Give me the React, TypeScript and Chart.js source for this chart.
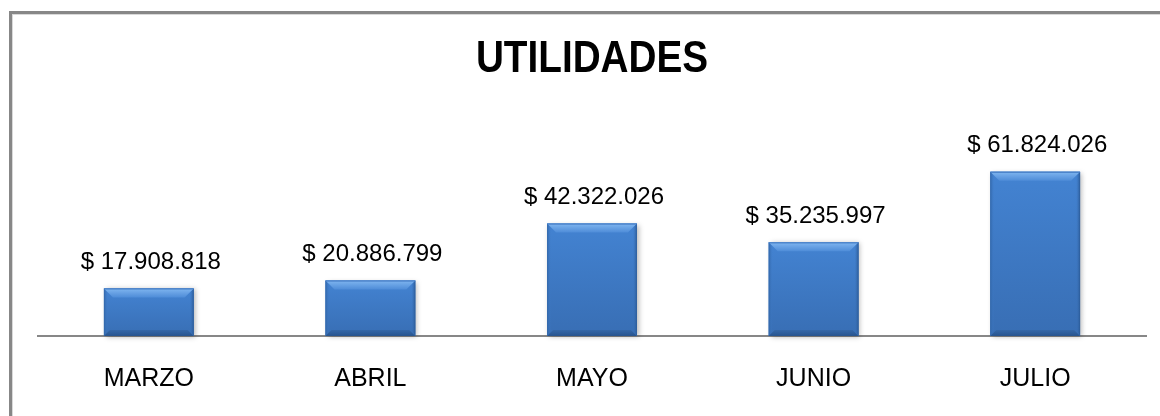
import React, { useEffect, useRef } from "react";
import { Chart, registerables } from "chart.js";

Chart.register(...registerables);

const categories = ["MARZO", "ABRIL", "MAYO", "JUNIO", "JULIO"];
const utilidades = [17908818, 20886799, 42322026, 35235997, 61824026];
const chartTitle = "UTILIDADES";
const yMax = 70000000;

const REGULAR = "'Liberation Sans', Arial, sans-serif";

function formatPesos(v: number): string {
  const s = Math.round(v).toString().replace(/\B(?=(\d{3})+(?!\d))/g, ".");
  return "$ " + s;
}

const framePlugin = {
  id: "frame",
  beforeDraw(chart: any) {
    const ctx = chart.ctx;
    ctx.save();
    ctx.fillStyle = "#ffffff";
    ctx.fillRect(0, 0, chart.width, chart.height);
    ctx.fillStyle = "#878787";
    ctx.fillRect(9, 11, 3, chart.height - 11);
    ctx.fillRect(9, 11, chart.width - 9, 3);
    ctx.fillStyle = "#d9d9d9";
    ctx.fillRect(12, 14, 1, chart.height - 14);
    ctx.fillRect(12, 14, chart.width - 12, 1);
    // condensed bold title
    ctx.fillStyle = "#000000";
    ctx.font = "bold 45px " + REGULAR;
    ctx.textAlign = "center";
    ctx.textBaseline = "middle";
    const cx = (chart.chartArea.left + chart.chartArea.right) / 2;
    ctx.translate(cx, 60);
    ctx.scale(0.86, 1);
    ctx.fillText(chartTitle, 0, 0);
    ctx.restore();
  },
};

const bevelPlugin = {
  id: "bevelBars",
  afterDatasetsDraw(chart: any) {
    const ctx = chart.ctx;
    const meta = chart.getDatasetMeta(0);
    ctx.save();
    meta.data.forEach((bar: any, i: number) => {
      const { x, y, base, width } = bar.getProps(["x", "y", "base", "width"], true);
      const L = x - width / 2;
      const R = x + width / 2;
      const T = y;
      const B = base;
      ctx.save();
      ctx.shadowColor = "rgba(0,0,0,0.28)";
      ctx.shadowBlur = 5;
      ctx.shadowOffsetX = 2;
      ctx.shadowOffsetY = 1;
      const g = ctx.createLinearGradient(0, T, 0, B);
      g.addColorStop(0, "#4383d2");
      g.addColorStop(1, "#386eb4");
      ctx.fillStyle = g;
      ctx.fillRect(L, T, R - L, B - T);
      ctx.restore();
      const c = 9;
      const sw = 4;
      const bb = 6;
      const gl = ctx.createLinearGradient(L, 0, L + sw, 0);
      gl.addColorStop(0, "#3166a8");
      gl.addColorStop(1, "rgba(64,124,200,0)");
      ctx.fillStyle = gl;
      ctx.beginPath();
      ctx.moveTo(L, T);
      ctx.lineTo(L + c, T + c);
      ctx.lineTo(L + sw, T + c + 6);
      ctx.lineTo(L + sw, B - bb);
      ctx.lineTo(L, B);
      ctx.closePath();
      ctx.fill();
      const gr = ctx.createLinearGradient(R, 0, R - sw, 0);
      gr.addColorStop(0, "#2a5a97");
      gr.addColorStop(1, "rgba(60,115,185,0)");
      ctx.fillStyle = gr;
      ctx.beginPath();
      ctx.moveTo(R, T);
      ctx.lineTo(R - c, T + c);
      ctx.lineTo(R - sw, T + c + 6);
      ctx.lineTo(R - sw, B - bb);
      ctx.lineTo(R, B);
      ctx.closePath();
      ctx.fill();
      const gb = ctx.createLinearGradient(0, B - bb, 0, B);
      gb.addColorStop(0, "#3467a8");
      gb.addColorStop(1, "#27548e");
      ctx.fillStyle = gb;
      ctx.beginPath();
      ctx.moveTo(L, B);
      ctx.lineTo(L + bb, B - bb);
      ctx.lineTo(R - bb, B - bb);
      ctx.lineTo(R, B);
      ctx.closePath();
      ctx.fill();
      const gt = ctx.createLinearGradient(0, T, 0, T + c);
      gt.addColorStop(0, "#80b6f0");
      gt.addColorStop(1, "#4e8cd8");
      ctx.fillStyle = gt;
      ctx.beginPath();
      ctx.moveTo(L, T);
      ctx.lineTo(R, T);
      ctx.lineTo(R - c, T + c);
      ctx.lineTo(L + c, T + c);
      ctx.closePath();
      ctx.fill();
      ctx.fillStyle = "#3b73bd";
      ctx.fillRect(L, T, R - L, 1);

      ctx.fillStyle = "#000000";
      ctx.font = "24px " + REGULAR;
      ctx.textAlign = "center";
      ctx.textBaseline = "middle";
      ctx.fillText(formatPesos(utilidades[i]), x + 2, T - 26);
    });
    ctx.restore();
  },
};

export default function App() {
  const ref = useRef<HTMLCanvasElement | null>(null);
  useEffect(() => {
    document.body.style.margin = "0";
    const canvas = ref.current;
    if (!canvas) return;
    const chart = new Chart(canvas, {
      type: "bar",
      data: {
        labels: categories,
        datasets: [
          {
            label: chartTitle,
            data: utilidades,
            backgroundColor: "#3e77c2",
            borderWidth: 0,
            categoryPercentage: 0.45,
            barPercentage: 0.9,
          },
        ],
      },
      options: {
        responsive: false,
        animation: false,
        devicePixelRatio: 1,
        layout: { padding: { top: 150, left: 38, right: 14, bottom: 21 } },
        plugins: {
          legend: { display: false },
          tooltip: { enabled: false },
          title: { display: false },
        },
        scales: {
          x: {
            grid: { display: false, drawTicks: false },
            border: { display: true, color: "#878787", width: 2 },
            ticks: {
              color: "#000000",
              font: { family: REGULAR, size: 25 },
              padding: 28,
            },
            afterFit(scale: any) {
              scale.height = 59;
            },
          },
          y: {
            display: false,
            min: 0,
            max: yMax,
          },
        },
      },
      plugins: [framePlugin, bevelPlugin],
    });
    return () => chart.destroy();
  }, []);
  return (
    <div style={{ width: 1160, height: 416 }}>
      <canvas ref={ref} width={1160} height={416} style={{ display: "block" }} />
    </div>
  );
}
